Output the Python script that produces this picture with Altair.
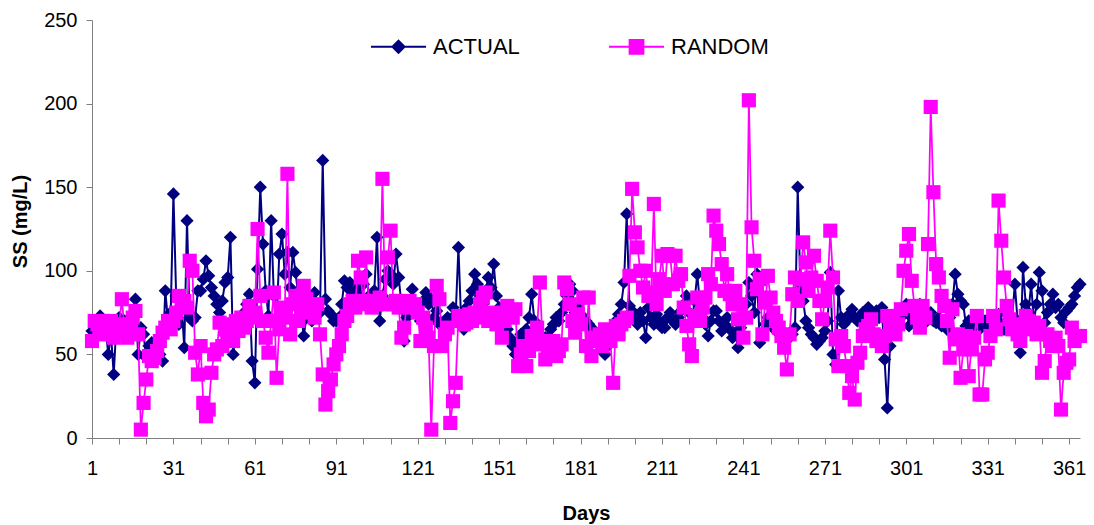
import altair as alt
import pandas as pd

days = list(range(1, 366))

actual = [
    64, 67, 69, 73, 71, 66, 50, 62, 38, 68,
    72, 66, 70, 65, 68, 72, 83, 50, 66, 62,
    48, 55, 57, 52, 47, 50, 46, 88, 70, 75,
    146, 85, 68, 80, 54, 130, 72, 70, 72, 88,
    88, 95, 106, 97, 90, 85, 80, 75, 82, 93,
    96, 120, 50, 65, 70, 68, 75, 80, 86, 46,
    33, 101, 150, 116, 88, 73, 130, 85, 70, 110,
    122, 98, 111, 90, 111, 99, 85, 75, 61, 72,
    76, 70, 87, 80, 75, 166, 83, 76, 74, 70,
    70, 72, 80, 94, 90, 93, 86, 82, 90, 84,
    92, 98, 85, 78, 88, 120, 70, 85, 95, 100,
    98, 92, 110, 96, 80, 58, 72, 80, 89, 78,
    75, 70, 82, 87, 80, 83, 72, 76, 68, 69,
    66, 72, 70, 78, 74, 114, 70, 65, 78, 82,
    88, 98, 92, 85, 80, 88, 96, 90, 104, 85,
    78, 72, 70, 65, 60, 55, 50, 58, 62, 60,
    65, 72, 86, 70, 62, 58, 55, 60, 60, 65,
    68, 72, 70, 75, 80, 85, 92, 88, 75, 78,
    74, 72, 70, 68, 66, 62, 58, 55, 52, 50,
    55, 62, 66, 70, 74, 80, 93, 134, 79, 76,
    72, 68, 75, 70, 60, 78, 72, 68, 74, 70,
    66, 66, 72, 75, 70, 68, 72, 76, 80, 85,
    75, 70, 82, 98, 80, 72, 68, 61, 70, 76,
    76, 70, 64, 68, 72, 65, 60, 62, 54, 66,
    70, 80, 93, 85, 75, 98, 57, 62, 68, 72,
    70, 66, 64, 68, 60, 56, 62, 60, 62, 66,
    150, 90, 82, 70, 66, 62, 60, 56, 58, 60,
    64, 70, 99, 50, 44, 88, 72, 68, 70, 74,
    77, 72, 70, 73, 75, 72, 78, 74, 70, 76,
    72, 78, 47, 18, 55, 62, 65, 70, 72, 75,
    80, 67, 72, 75, 78, 80, 74, 69, 72, 75,
    70, 69, 72, 67, 70, 65, 72, 80, 98, 86,
    82, 80, 67, 70, 66, 68, 72, 65, 68, 70,
    66, 72, 68, 70, 74, 68, 65, 70, 66, 72,
    92, 70, 51, 102, 80, 75, 92, 70, 80, 99,
    88, 69, 75, 80, 86, 78, 80, 72, 69, 76,
    78, 80, 85, 90, 92,
]

random_vals = [
    58, 70, 68, 65, 70, 62, 66, 70, 60, 64,
    68, 83, 65, 60, 68, 72, 76, 62, 5, 21,
    35, 49, 46, 48, 52, 58, 63, 66, 70, 65,
    70, 75, 85, 80, 82, 78, 106, 100, 51, 38,
    55, 21, 13, 17, 39, 50, 53, 69, 55, 65,
    62, 68, 58, 70, 64, 72, 66, 70, 79, 72,
    75, 125, 85, 70, 60, 51, 70, 87, 36, 65,
    78, 72, 158, 62, 80, 85, 70, 75, 91, 83,
    80, 78, 72, 80, 62, 38, 20, 28, 35, 44,
    50, 55, 62, 70, 73, 80, 82, 78, 106, 96,
    82, 108, 80, 78, 82, 80, 84, 155, 80, 108,
    124, 80, 82, 78, 60, 66, 80, 82, 78, 80,
    75, 58, 72, 66, 60, 5, 55, 91, 83, 55,
    62, 66, 9, 22, 33, 73, 70, 68, 69, 74,
    70, 75, 72, 80, 84, 87, 70, 72, 75, 68,
    72, 60, 70, 79, 75, 72, 77, 43, 50, 55,
    43, 52, 61, 56, 66, 93, 58, 47, 55, 52,
    58, 49, 52, 56, 93, 89, 80, 70, 63, 74,
    68, 84, 55, 84, 49, 60, 58, 62, 55, 65,
    60, 58, 33, 67, 62, 68, 70, 72, 97, 149,
    123, 114, 100, 90, 100, 85, 87, 140, 80, 95,
    109, 88, 110, 109, 92, 109, 94, 98, 78, 67,
    56, 49, 73, 84, 70, 78, 84, 98, 92, 133,
    124, 116, 104, 88, 98, 86, 80, 88, 71, 80,
    60, 72, 202, 126, 106, 89, 95, 62, 81, 97,
    84, 75, 70, 66, 61, 54, 41, 62, 86, 96,
    82, 95, 117, 105, 88, 96, 109, 94, 82, 71,
    82, 90, 124, 96, 59, 43, 61, 55, 43, 27,
    37, 23, 45, 51, 61, 65, 67, 71, 62, 58,
    60, 55, 61, 73, 66, 71, 62, 68, 77, 100,
    112, 122, 94, 79, 72, 66, 79, 72, 116, 198,
    147, 104, 96, 85, 79, 70, 48, 77, 59, 62,
    36, 53, 61, 37, 53, 60, 73, 26, 26, 47,
    51, 61, 73, 65, 142, 118, 96, 79, 71, 65,
    68, 62, 58, 65, 73, 70, 66, 69, 62, 67,
    39, 46, 62, 58, 55, 60, 55, 17, 39, 45,
    47, 66, 58, 61, 61,
]

series_names = ["ACTUAL", "RANDOM"]
series_colors = ["#000080", "#FF00FF"]
legend_shapes = [
    "M-1,0L1,0M0,-0.22L0.22,0L0,0.22L-0.22,0Z",
    "M-1,0L1,0M-0.25,-0.25L0.25,-0.25L0.25,0.25L-0.25,0.25Z",
]
y_ticks = [0, 50, 100, 150, 200, 250]
x_ticks = list(range(1, 362, 10))

FONT = "Liberation Sans"

df = pd.DataFrame({
    "Day": days * 2,
    "SS": actual + random_vals,
    "Series": ["ACTUAL"] * len(actual) + ["RANDOM"] * len(random_vals),
})

x_enc = alt.X(
    "Day:Q",
    scale=alt.Scale(domain=[1, 365], nice=False, zero=False),
    axis=alt.Axis(
        values=x_ticks,
        labelExpr="(datum.value - 1) % 30 == 0 ? datum.label : ''",
        labelOverlap=False,
        labelFlush=False,
        title="Days",
        titleFont=FONT,
        titleFontSize=20,
        titleFontWeight="bold",
        titleColor="black",
        titleBaseline="middle",
        titleY=75,
        labelFont=FONT,
        labelFontSize=20,
        labelColor="black",
        labelPadding=14,
        tickSize=6,
        tickColor="#808080",
        domainColor="#808080",
        grid=False,
    ),
)
y_enc = alt.Y(
    "SS:Q",
    scale=alt.Scale(domain=[0, 250], nice=False),
    axis=alt.Axis(
        values=y_ticks,
        title="SS (mg/L)",
        titleFont=FONT,
        titleFontSize=20,
        titleFontWeight="bold",
        titleColor="black",
        titleAngle=270,
        titleBaseline="middle",
        titleAlign="center",
        titleX=-72,
        titleY=201,
        labelFont=FONT,
        labelFontSize=20,
        labelColor="black",
        labelPadding=9,
        tickSize=6,
        tickColor="#808080",
        domainColor="#808080",
        grid=False,
    ),
)

base = alt.Chart(df)

a_line = base.transform_filter(alt.datum.Series == "ACTUAL").mark_line(
    color=series_colors[0], strokeWidth=2
).encode(x=x_enc, y=y_enc)
a_pts = base.transform_filter(alt.datum.Series == "ACTUAL").mark_point(
    filled=True, shape="diamond", size=175, color=series_colors[0], opacity=1
).encode(x=x_enc, y=y_enc)
r_line = base.transform_filter(alt.datum.Series == "RANDOM").mark_line(
    color=series_colors[1], strokeWidth=1.75
).encode(x=x_enc, y=y_enc)
r_pts = base.transform_filter(alt.datum.Series == "RANDOM").mark_point(
    filled=True, shape="square", size=200, color=series_colors[1], opacity=1
).encode(x=x_enc, y=y_enc)

legend_props = dict(
    orient="none",
    legendX=278,
    legendY=-2,
    direction="horizontal",
    title=None,
    labelFont=FONT,
    labelFontSize=22,
    labelColor="black",
    symbolSize=3025,
    symbolStrokeWidth=2,
    symbolOpacity=1,
    columnPadding=85,
    labelOffset=6,
    padding=0,
)
legend_df = pd.DataFrame({"Series": series_names})
leg = alt.Chart(legend_df).mark_point(filled=True, opacity=0).encode(
    color=alt.Color("Series:N", scale=alt.Scale(domain=series_names, range=series_colors),
                    legend=alt.Legend(**legend_props)),
    stroke=alt.Stroke("Series:N", scale=alt.Scale(domain=series_names, range=series_colors),
                      legend=alt.Legend(**legend_props)),
    shape=alt.Shape("Series:N", scale=alt.Scale(domain=series_names, range=legend_shapes),
                    legend=alt.Legend(**legend_props)),
)

chart = alt.layer(a_line, a_pts, r_line, r_pts, leg).properties(
    width=988,
    height=418,
    autosize=alt.AutoSizeParams(type="none"),
    padding={"left": 92, "top": 20, "right": 14, "bottom": 87},
    background="white",
).configure_view(stroke=None)

chart.save("out.html", embed_options={"renderer": "svg", "actions": False})
